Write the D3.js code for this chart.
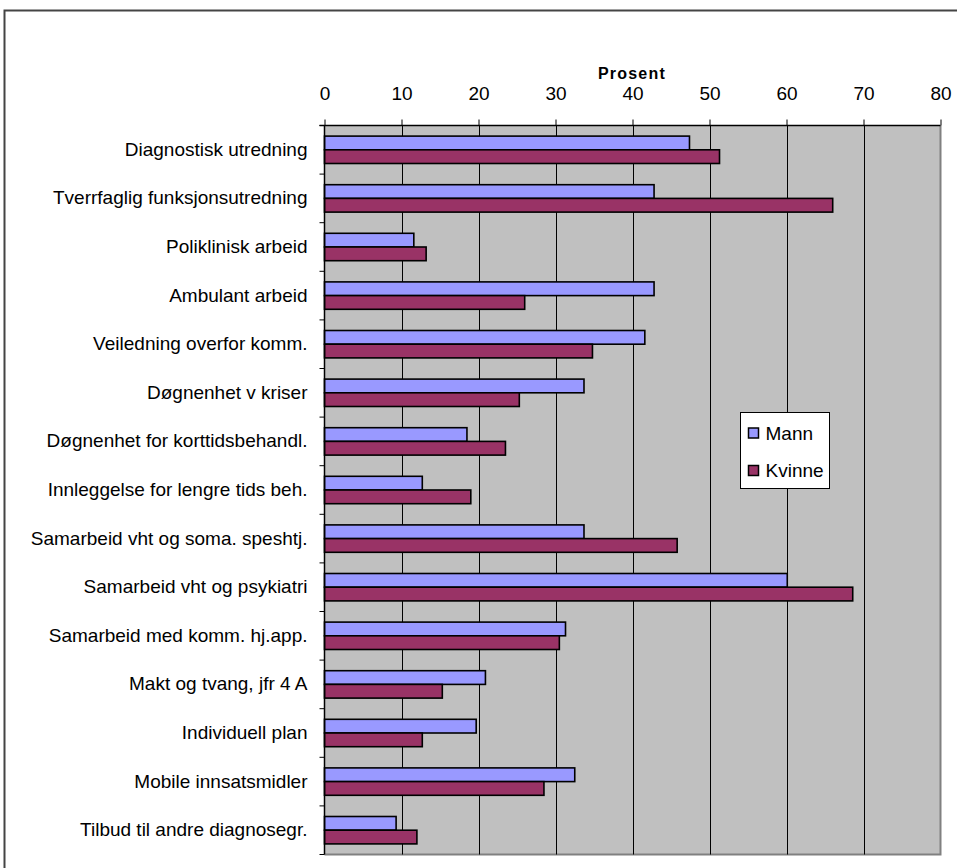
<!DOCTYPE html>
<html>
<head>
<meta charset="utf-8">
<script src="https://cdn.jsdelivr.net/npm/d3@7"></script>
<style>
  html, body { margin: 0; padding: 0; background: #fff; }
  svg { display: block; }
  text { font-family: Arial, "Liberation Sans", sans-serif; fill: #000; }
</style>
</head>
<body>
<svg id="chart" width="957" height="868"></svg>
<script>
const categories = [
  "Diagnostisk utredning",
  "Tverrfaglig funksjonsutredning",
  "Poliklinisk arbeid",
  "Ambulant arbeid",
  "Veiledning overfor komm.",
  "Døgnenhet v kriser",
  "Døgnenhet for korttidsbehandl.",
  "Innleggelse for lengre tids beh.",
  "Samarbeid vht og soma. speshtj.",
  "Samarbeid vht og psykiatri",
  "Samarbeid med komm. hj.app.",
  "Makt og tvang, jfr 4 A",
  "Individuell plan",
  "Mobile innsatsmidler",
  "Tilbud til andre diagnosegr."
];
const seriesNames = ["Mann", "Kvinne"];
const mann   = [47.4, 42.8, 11.6, 42.8, 41.6, 33.7, 18.5, 12.7, 33.7, 60.1, 31.3, 20.9, 19.7, 32.5, 9.3];
const kvinne = [51.3, 66.0, 13.2, 26.0, 34.8, 25.3, 23.5, 19.0, 45.8, 68.6, 30.5, 15.3, 12.7, 28.5, 12.0];
const xTicks = [0, 10, 20, 30, 40, 50, 60, 70, 80];
const axisTitle = "Prosent";

const colors = { Mann: "#9999FF", Kvinne: "#993366" };

const svg = d3.select("#chart");

// outer chart frame
svg.append("rect")
  .attr("x", 4.5).attr("y", 10.5)
  .attr("width", 960).attr("height", 870)
  .attr("fill", "#fff")
  .attr("stroke", "#444").attr("stroke-width", 2);

const plot = { left: 324.5, right: 940.5, top: 125.5, bottom: 854.5 };

const x = d3.scaleLinear().domain([0, 80]).range([plot.left, plot.right]);
const y = d3.scaleBand().domain(categories).range([plot.top, plot.bottom]).padding(0);

const groupH = 27.4;
const inner = d3.scaleBand()
  .domain(seriesNames)
  .range([(y.bandwidth() - groupH) / 2, (y.bandwidth() + groupH) / 2]);

// plot background
svg.append("rect")
  .attr("x", plot.left).attr("y", plot.top)
  .attr("width", plot.right - plot.left).attr("height", plot.bottom - plot.top)
  .attr("fill", "#C0C0C0");

// right/bottom plot border
svg.append("path")
  .attr("d", `M${plot.right},${plot.top}V${plot.bottom}H${plot.left}`)
  .attr("fill", "none").attr("stroke", "#808080").attr("stroke-width", 2);

// vertical gridlines
svg.append("g").selectAll("line")
  .data(xTicks.filter(t => t > 0 && t < 80))
  .join("line")
  .attr("x1", d => Math.round(x(d)) + 0.5).attr("x2", d => Math.round(x(d)) + 0.5)
  .attr("y1", plot.top).attr("y2", plot.bottom)
  .attr("stroke", "#000").attr("stroke-width", 1);

// bars
const rows = categories.map((c, i) => ({ cat: c, Mann: mann[i], Kvinne: kvinne[i] }));
const groups = svg.append("g").selectAll("g")
  .data(rows)
  .join("g")
  .attr("transform", d => `translate(0,${y(d.cat)})`);

groups.selectAll("rect")
  .data(d => seriesNames.map(s => ({ s, v: d[s] })))
  .join("rect")
  .attr("x", x(0))
  .attr("y", d => inner(d.s))
  .attr("width", d => x(d.v) - x(0))
  .attr("height", inner.bandwidth())
  .attr("fill", d => colors[d.s])
  .attr("stroke", "#000").attr("stroke-width", 1.6);

// top axis
const xAxis = svg.append("g")
  .attr("transform", `translate(0,${plot.top})`)
  .call(d3.axisTop(x).tickValues(xTicks).tickSize(6).tickPadding(20).tickFormat(d3.format("d")));
xAxis.select(".domain").attr("d", `M${plot.left - 5},0H${plot.right}`).attr("stroke", "#000").attr("stroke-width", 1.5);
xAxis.selectAll(".tick line").attr("stroke", "#000");
xAxis.selectAll(".tick text").attr("font-size", 19).style("font-family", "Arial, 'Liberation Sans', sans-serif");

svg.append("text")
  .attr("x", 632).attr("y", 79)
  .attr("text-anchor", "middle")
  .attr("font-size", 16).attr("font-weight", "bold")
  .attr("letter-spacing", 1.2)
  .text(axisTitle);

// left axis: line, category boundary ticks, labels
svg.append("line")
  .attr("x1", plot.left).attr("x2", plot.left)
  .attr("y1", plot.top).attr("y2", plot.bottom)
  .attr("stroke", "#000").attr("stroke-width", 1.5);

const boundaries = categories.map(c => y(c)).concat([plot.bottom]);
svg.append("g").selectAll("line")
  .data(boundaries)
  .join("line")
  .attr("x1", plot.left - 5).attr("x2", plot.left)
  .attr("y1", d => d).attr("y2", d => d)
  .attr("stroke", "#000").attr("stroke-width", 1);

const yAxis = svg.append("g")
  .attr("transform", `translate(${plot.left},0)`)
  .call(d3.axisLeft(y).tickSize(0).tickPadding(17));
yAxis.select(".domain").remove();
yAxis.selectAll(".tick text").attr("font-size", 19).style("font-family", "Arial, 'Liberation Sans', sans-serif");

// legend
const legend = svg.append("g").attr("transform", "translate(740.5,412.5)");
legend.append("rect")
  .attr("width", 89).attr("height", 76)
  .attr("fill", "#fff").attr("stroke", "#000").attr("stroke-width", 1);
seriesNames.forEach((s, i) => {
  const cy = 20.5 + i * 37.5;
  legend.append("rect")
    .attr("x", 8).attr("y", cy - 5)
    .attr("width", 10).attr("height", 10)
    .attr("fill", colors[s]).attr("stroke", "#000").attr("stroke-width", 1.5);
  legend.append("text")
    .attr("x", 25).attr("y", cy)
    .attr("dy", "0.35em")
    .attr("font-size", 19)
    .text(s);
});
</script>
</body>
</html>
